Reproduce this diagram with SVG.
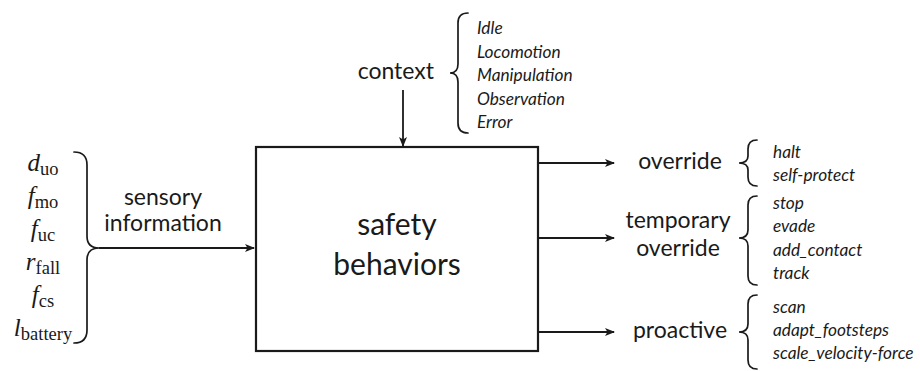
<svg xmlns="http://www.w3.org/2000/svg" width="920" height="371" viewBox="0 0 920 371">
  <style>
    .ln { fill: none; stroke: #1a1a1a; stroke-width: 1.8; }
    .br { fill: none; stroke: #1a1a1a; stroke-width: 1.7; stroke-linecap: round; }
    .lbl { font-family: Lato, "Open Sans", sans-serif; font-size: 23px; fill: #1a1a1a; }
    .big { font-family: Lato, "Open Sans", sans-serif; font-size: 30px; fill: #1a1a1a; }
    .it { font-family: Lato, "Open Sans", sans-serif; font-size: 17.3px; font-style: italic; fill: #1a1a1a; }
    .m { font-family: "Liberation Serif", "DejaVu Serif", serif; font-size: 25px; font-style: italic; fill: #1a1a1a; }
    .sub { font-size: 18.5px; font-style: normal; }
  </style>
  <defs>
    <marker id="arrow" viewBox="0 0 10 10" refX="9" refY="5" markerWidth="10" markerHeight="10" markerUnits="userSpaceOnUse" orient="auto">
      <path d="M0,1 L10,5 L0,9 L2.5,5 Z" fill="#1a1a1a"/>
    </marker>
  </defs>
  <rect width="920" height="371" fill="#ffffff"/>

  <!-- central block -->
  <g id="safety-behaviors">
    <rect x="256" y="147" width="282" height="204" fill="#ffffff" stroke="#1a1a1a" stroke-width="2.2"/>
    <text class="big" x="397" y="235" text-anchor="middle">safety</text>
    <text class="big" x="397" y="275" text-anchor="middle">behaviors</text>
  </g>

  <!-- sensory inputs -->
  <g id="sensory-information">
    <text class="m" x="43" y="171" text-anchor="middle">d<tspan class="sub" dy="4">uo</tspan></text>
    <text class="m" x="43" y="204" text-anchor="middle">f<tspan class="sub" dy="4">mo</tspan></text>
    <text class="m" x="43" y="237" text-anchor="middle">f<tspan class="sub" dy="4">uc</tspan></text>
    <text class="m" x="43" y="270" text-anchor="middle">r<tspan class="sub" dy="4">fall</tspan></text>
    <text class="m" x="43" y="303" text-anchor="middle">f<tspan class="sub" dy="4">cs</tspan></text>
    <text class="m" x="43" y="336" text-anchor="middle">l<tspan class="sub" dy="4">battery</tspan></text>
    <path class="br" d="M74,152 Q87,152 87,165 L87,236 Q87,248 99,248 Q87,248 87,260 L87,330 Q87,343 74,343"/>
    <text class="lbl" x="163" y="205" text-anchor="middle">sensory</text>
    <text class="lbl" x="163" y="231" text-anchor="middle">information</text>
  </g>

  <!-- context input -->
  <g id="context">
    <text class="lbl" x="434" y="79" text-anchor="end">context</text>
    <path class="br" d="M468,13 Q458,13 458,23 L458,64 Q458,73 450,73 Q458,73 458,82 L458,123 Q458,133 468,133"/>
    <text class="it" x="477" y="34">Idle</text>
    <text class="it" x="477" y="57.5">Locomotion</text>
    <text class="it" x="477" y="81">Manipulation</text>
    <text class="it" x="477" y="104.5">Observation</text>
    <text class="it" x="477" y="128">Error</text>
  </g>

  <!-- override output -->
  <g id="override">
    <text class="lbl" x="680" y="169" text-anchor="middle">override</text>
    <path class="br" d="M757,140 Q748,140 748,149 L748,156 Q748,163 739,163 Q748,163 748,170 L748,177 Q748,186 757,186"/>
    <text class="it" x="773" y="158">halt</text>
    <text class="it" x="773" y="181">self-protect</text>
  </g>

  <!-- temporary override output -->
  <g id="temporary-override">
    <text class="lbl" x="678" y="228" text-anchor="middle">temporary</text>
    <text class="lbl" x="678" y="256" text-anchor="middle">override</text>
    <path class="br" d="M757,196 Q748,196 748,205 L748,230 Q748,238 739,238 Q748,238 748,246 L748,276 Q748,285 757,285"/>
    <text class="it" x="773" y="209">stop</text>
    <text class="it" x="773" y="232">evade</text>
    <text class="it" x="773" y="256">add_contact</text>
    <text class="it" x="773" y="279">track</text>
  </g>

  <!-- proactive output -->
  <g id="proactive">
    <text class="lbl" x="680" y="338" text-anchor="middle">proactive</text>
    <path class="br" d="M757,295 Q748,295 748,304 L748,324 Q748,332 739,332 Q748,332 748,340 L748,360 Q748,369 757,369"/>
    <text class="it" x="773" y="313">scan</text>
    <text class="it" x="773" y="336">adapt_footsteps</text>
    <text class="it" x="773" y="359">scale_velocity-force</text>
  </g>

  <!-- connectors -->
  <g id="connectors">
    <line class="ln" x1="99" y1="248" x2="254" y2="248" marker-end="url(#arrow)"/>
    <line class="ln" x1="403" y1="90" x2="403" y2="146" marker-end="url(#arrow)"/>
    <line class="ln" x1="539" y1="163" x2="614" y2="163" marker-end="url(#arrow)"/>
    <line class="ln" x1="539" y1="238" x2="614" y2="238" marker-end="url(#arrow)"/>
    <line class="ln" x1="539" y1="332" x2="614" y2="332" marker-end="url(#arrow)"/>
  </g>
</svg>
